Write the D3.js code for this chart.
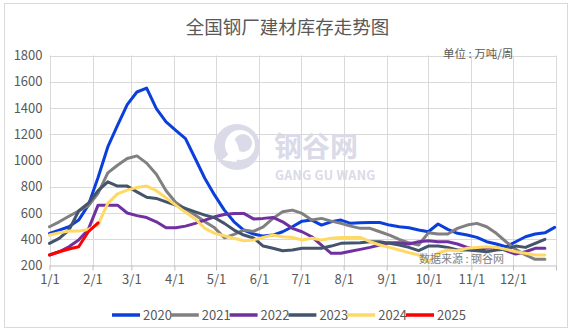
<!DOCTYPE html>
<html><head><meta charset="utf-8">
<script src="https://cdn.jsdelivr.net/npm/d3@7"></script>
<style>
html,body{margin:0;padding:0;background:#fff;}
svg{display:block;font-family:"Noto Sans CJK SC","Noto Sans",sans-serif;}
</style></head>
<body>
<svg id="chart" width="573" height="332"></svg>
<script>
// ---- data (weekly values, week k = day 7k of year) ----
const years = ["2020", "2021", "2022", "2023", "2024", "2025"];
const v2020 = [445,470,495,546,660,870,1103,1268,1426,1522,1552,1395,1294,1230,1167,1015,863,736,622,533,470,440,424,432,457,495,538,546,508,533,546,521,526,528,528,508,495,487,470,457,516,475,445,432,414,381,364,343,381,419,440,449,490];
const v2021 = [495,533,575,615,655,749,906,964,1015,1035,980,895,770,680,630,584,533,487,411,437,470,460,495,559,609,622,597,546,559,538,521,500,483,483,457,432,399,373,356,449,440,440,483,508,521,495,445,381,323,280,247,247];
const v2022 = [280,305,343,394,475,660,660,660,600,580,565,533,487,487,500,521,546,571,589,597,597,555,559,566,533,483,457,419,356,293,293,309,323,338,356,373,373,364,381,389,381,381,364,338,323,331,338,313,287,305,331,331];
const v2023 = [369,407,470,615,675,770,837,805,805,761,720,711,685,660,635,609,584,564,521,470,432,410,348,331,313,318,331,331,331,348,369,372,373,381,381,369,356,338,313,348,348,338,318,318,313,305,318,323,348,338,369,399];
const v2024 = [432,449,462,462,475,510,673,746,774,795,805,770,715,660,605,554,483,445,427,407,389,395,414,432,419,414,394,407,394,407,414,414,414,381,356,338,318,298,280,225,293,318,313,331,338,343,338,323,305,293,280,280];
const v2025 = [280,305,326,343,457,525];
const seriesValues = [v2020, v2021, v2022, v2023, v2024, v2025];
const yTickValues = [200,400,600,800,1000,1200,1400,1600,1800];
const monthLabels = ["1/1","2/1","3/1","4/1","5/1","6/1","7/1","8/1","9/1","10/1","11/1","12/1"];
const monthStartDays = [0,31,59,90,120,151,181,212,243,273,304,334];
const titleText = "全国钢厂建材库存走势图";
const unitText = "单位 : 万吨/周";
const sourceText = "数据来源 : 钢谷网";

// ---- styles ----
const colors = ["#0B3FDB", "#808080", "#7030A0", "#44546A", "#FFD966", "#FF0000"];
const textColor = "#595959";

const svg = d3.select("#chart");
svg.append("rect").attr("x",4.5).attr("y",3.5).attr("width",563).attr("height",324)
  .attr("fill","#fff").attr("stroke","#d9d9d9");

const x = d3.scaleLinear().domain([0,365]).range([49.5,556]);
const y = d3.scaleLinear().domain([200,1800]).range([265.5,55.5]);

// gridlines
const grid = svg.append("g");
grid.selectAll("line.h").data(yTickValues.slice(1)).join("line")
  .attr("x1",x(0)).attr("x2",x(365)).attr("y1",d=>Math.round(y(d))+0.5).attr("y2",d=>Math.round(y(d))+0.5)
  .attr("stroke","#d9d9d9");
grid.selectAll("line.v").data(monthStartDays.concat([365])).join("line")
  .attr("x1",d=>Math.round(x(d))+0.5).attr("x2",d=>Math.round(x(d))+0.5)
  .attr("y1",y(1800)).attr("y2",y(200)).attr("stroke","#d9d9d9");

// watermark
const wm = svg.append("g");
wm.append("circle").attr("cx",237).attr("cy",147).attr("r",23).attr("fill","#dadae8");
wm.append("circle").attr("cx",240).attr("cy",145).attr("r",15).attr("fill","#fff");
wm.append("circle").attr("cx",243).attr("cy",143).attr("r",9).attr("fill","#dadae8");
wm.append("path").attr("d","M222,160 Q236,150 232,136 Q244,150 236,162 Z").attr("fill","#fff");
wm.append("text").attr("x",274).attr("y",157).attr("font-size",28).attr("font-weight","bold")
  .attr("fill","#dadae8").text("钢谷网");
wm.append("text").attr("x",275).attr("y",180).attr("font-size",12.5).attr("font-weight","bold")
  .attr("fill","#dadae8").attr("letter-spacing",0.3).text("GANG GU WANG");

// axes
const yAxis = d3.axisLeft(y).tickValues(yTickValues).tickFormat(d3.format("d")).tickSize(0).tickPadding(7);
const gy = svg.append("g").attr("transform","translate(49.5,0)").call(yAxis);
gy.select(".domain").remove();
gy.selectAll("text").attr("font-size",13).attr("fill",textColor).attr("font-family","Noto Sans CJK SC, sans-serif");

const xAxis = d3.axisBottom(x).tickValues(monthStartDays).tickFormat((d,i)=>monthLabels[i]).tickSize(5).tickPadding(4);
const gx = svg.append("g").attr("transform","translate(0,265.5)").call(xAxis);
gx.select(".domain").attr("stroke","#bfbfbf").attr("d","M49.5,0.5H556");
gx.selectAll(".tick line").attr("stroke","#bfbfbf");
gx.selectAll("text").attr("font-size",13).attr("fill",textColor).attr("font-family","Noto Sans CJK SC, sans-serif");
svg.append("line").attr("x1",556.5).attr("x2",556.5).attr("y1",265.5).attr("y2",270.5).attr("stroke","#bfbfbf");

// lines
const line = d3.line().x((d,i)=>x(i*7)).y(d=>y(d));
const order = [0,1,2,3,4,5];
svg.append("g").selectAll("path").data(order).join("path")
  .attr("d",i=>line(seriesValues[i]))
  .attr("fill","none").attr("stroke",i=>colors[i]).attr("stroke-width",3)
  .attr("stroke-linejoin","round").attr("stroke-linecap","round");

// title & notes
svg.append("text").attr("x",287.5).attr("y",34).attr("text-anchor","middle")
  .attr("font-size",18.5).attr("fill",textColor).text(titleText);
svg.append("text").attr("x",443).attr("y",58).attr("font-size",11.5).attr("fill",textColor).text(unitText);
svg.append("text").attr("x",419).attr("y",263).attr("font-size",11).attr("fill","#7f7f7f").text(sourceText);

// legend
const lg = svg.append("g").selectAll("g").data(years).join("g")
  .attr("transform",(d,i)=>`translate(${112 + i*58.8},315)`);
lg.append("line").attr("x1",0).attr("x2",28).attr("y1",0).attr("y2",0)
  .attr("stroke",(d,i)=>colors[i]).attr("stroke-width",3.5);
lg.append("text").attr("x",31).attr("y",4.5).attr("font-size",13).attr("fill",textColor).text(d=>d);
</script>
</body></html>
